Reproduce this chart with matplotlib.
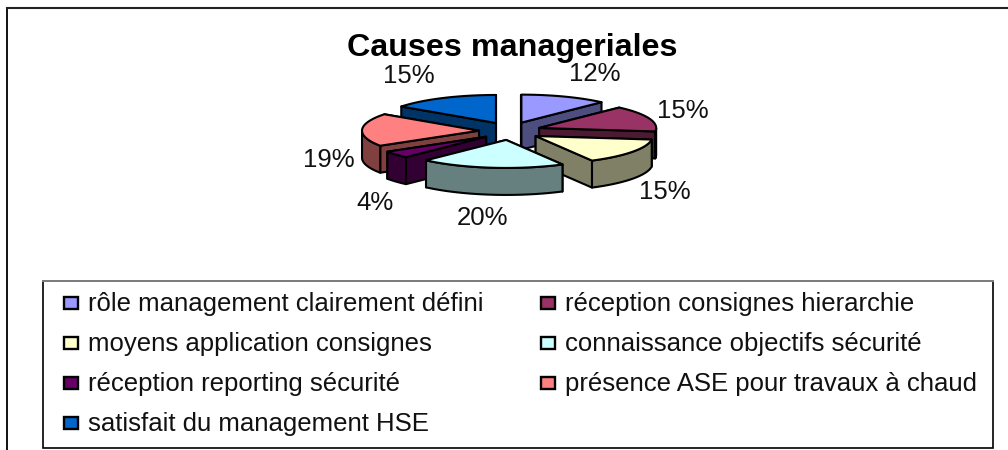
import numpy as np
import matplotlib
matplotlib.use("Agg")
import matplotlib.pyplot as plt
from matplotlib.patches import Polygon, Rectangle

plt.rcParams['font.family'] = ['Liberation Sans', 'DejaVu Sans']

TITLE = "Causes manageriales"
categories = ["rôle management clairement défini", "réception consignes hierarchie",
              "moyens application consignes", "connaissance objectifs sécurité",
              "réception reporting sécurité", "présence ASE pour travaux à chaud",
              "satisfait du management HSE"]
values = [12, 15, 15, 20, 4, 19, 15]
top_colors = ["#9999FF", "#993366", "#FFFFCC", "#CCFFFF", "#660066", "#FF8080", "#0066CC"]
wall_colors = ["#4D4D80", "#4D1A33", "#808066", "#668080", "#330033", "#804040", "#003366"]

# layout, in pixels
W, H = 1008, 450
CX, CY = 510, 131
RX, RY = 117, 28
EX, EY = 31, 9
DEPTH = 27
label_xy = [(595, 74), (683, 111), (665, 192), (482, 218), (375, 203), (329, 160), (409, 76)]
legend_box = (43, 281, 993, 448)
legend_cols = (63, 540)
legend_rows = (303, 343, 383, 423)

fig = plt.figure(figsize=(W / 100, H / 100), dpi=100)
ax = fig.add_axes([0, 0, 1, 1])
ax.set_xlim(0, W)
ax.set_ylim(H, 0)
ax.axis("off")

# outer chart frame (cropped on the right and at the bottom)
ax.plot([7, 7], [H, 8], color="black", lw=1.3, zorder=1, solid_capstyle="projecting")
ax.plot([7, W], [8, 8], color="#222222", lw=1.5, zorder=1)

ax.text(512, 48, TITLE, ha="center", va="center", fontsize=23.2, fontweight="bold", color="black")

# 3D pie, driven by the values
fracs = np.array(values, float) / sum(values)
edges = np.concatenate([[0], np.cumsum(fracs)]) * 2 * np.pi
mids = (edges[:-1] + edges[1:]) / 2
order = list(np.argsort(-np.cos(mids)))
LW = 1.5
for i in order:
    a0, a1 = edges[i], edges[i + 1]
    tx = CX + EX * np.sin(mids[i])
    ty = CY - EY * np.cos(mids[i])
    th = np.linspace(a0, a1, 60)
    arc_x = tx + RX * np.sin(th)
    arc_y = ty - RY * np.cos(th)
    z = 20 + order.index(i)
    # radial faces
    for a in sorted([a0, a1], key=lambda t: -np.cos(t)):
        ex, ey = tx + RX * np.sin(a), ty - RY * np.cos(a)
        ax.add_patch(Polygon([(tx, ty), (ex, ey), (ex, ey + DEPTH), (tx, ty + DEPTH)],
                             closed=True, fc=wall_colors[i], ec="black", lw=LW, zorder=z, joinstyle="round"))
    # visible part of the outer band
    mask = np.cos(th) <= 0
    if mask.any():
        bx, by = arc_x[mask], arc_y[mask]
        pts = list(zip(bx, by)) + list(zip(bx[::-1], by[::-1] + DEPTH))
        ax.add_patch(Polygon(pts, closed=True, fc=wall_colors[i], ec="black", lw=LW, zorder=z, joinstyle="round"))
    pts = [(tx, ty)] + list(zip(arc_x, arc_y))
    ax.add_patch(Polygon(pts, closed=True, fc=top_colors[i], ec="black", lw=LW, zorder=z, joinstyle="round"))

for v, (x, y) in zip(values, label_xy):
    ax.text(x, y, f"{v}%", ha="center", va="center", fontsize=18.5, color="#111111", zorder=60)

# legend
x0, y0, x1, y1 = legend_box
ax.add_patch(Rectangle((x0, y0), x1 - x0, y1 - y0, fc="white", ec="black", lw=1.2, zorder=2))
ax.plot([x0, x1], [y0, y0], color="#808080", lw=1.4, zorder=3)
for k, (name, col) in enumerate(zip(categories, top_colors)):
    lx = legend_cols[k % 2]
    ly = legend_rows[k // 2]
    ax.add_patch(Rectangle((lx + 1, ly - 6.5), 14, 12, fc=col, ec="black", lw=1.7, zorder=3))
    ax.text(lx + 25, ly + 0.5, name, ha="left", va="center", fontsize=18.5, color="#111111", zorder=3)

fig.savefig("out.png", dpi=100, facecolor="white")
